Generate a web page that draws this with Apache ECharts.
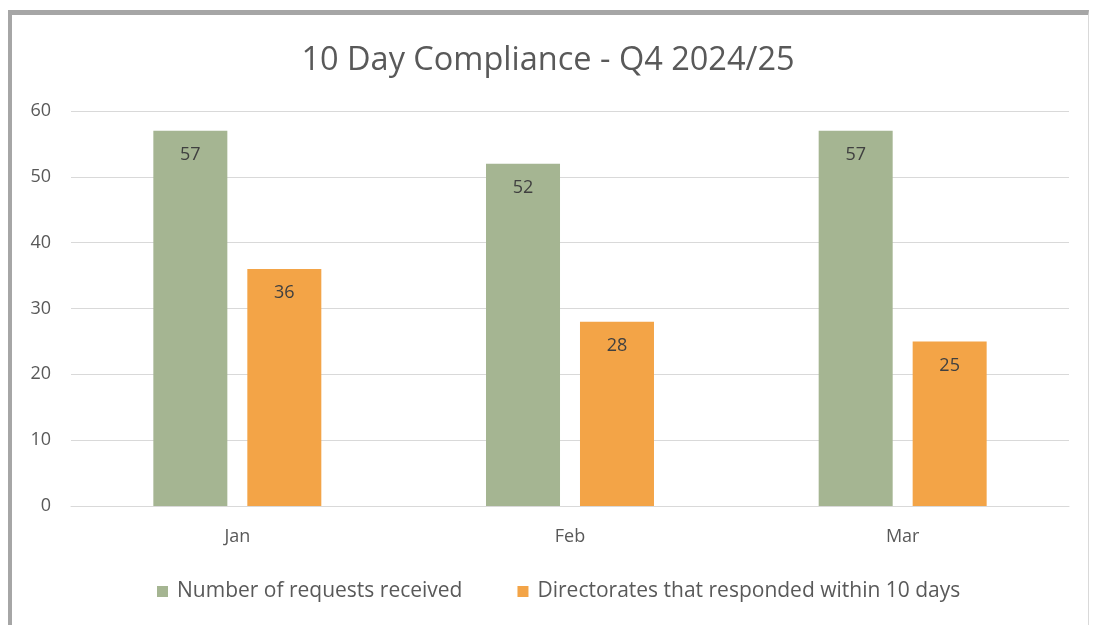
<!DOCTYPE html>
<html><head><meta charset="utf-8">
<script src="https://cdn.jsdelivr.net/npm/echarts@6/dist/echarts.min.js"></script>
<style>
html,body{margin:0;padding:0;background:#fff;}
#c{width:1096px;height:625px;}
#frame{position:absolute;left:8px;top:10px;width:1076px;height:640px;border-top:5px solid #a6a6a6;border-left:4px solid #a6a6a6;border-right:1px solid #d9d9d9;pointer-events:none;}
</style></head>
<body>
<div id="c"></div>
<div id="frame"></div>
<script>
const categories = ['Jan', 'Feb', 'Mar'];
const requestsReceived = [57, 52, 57];
const respondedWithin10 = [36, 28, 25];
const seriesNames = ['Number of requests received', 'Directorates that responded within 10 days'];

const font = 'Open Sans';
const chart = echarts.init(document.getElementById('c'));
const labelStyle = {show: true, position: 'insideTop', distance: 15, color: '#404040', fontSize: 18, fontFamily: font};
chart.setOption({
  animation: false,
  title: {text: '10 Day Compliance - Q4 2024/25', left: 'center', top: 39,
    textStyle: {fontFamily: font, fontSize: 32.5, fontWeight: 'normal', color: '#595959'}},
  legend: {bottom: 18, left: 152, itemWidth: 11, itemHeight: 11, itemGap: 55, icon: 'rect',
    textStyle: {fontFamily: font, fontSize: 21, color: '#595959', padding: [0, 0, 0, 4]}},
  grid: {left: 71, right: 27, top: 111, bottom: 119},
  xAxis: {type: 'category', data: categories,
    axisLine: {lineStyle: {color: '#d9d9d9', width: 1}}, axisTick: {show: false},
    axisLabel: {margin: 22, fontFamily: font, fontSize: 18, color: '#595959'}},
  yAxis: {type: 'value', min: 0, max: 60, interval: 10,
    axisLabel: {margin: 20, fontFamily: font, fontSize: 18, color: '#595959'},
    splitLine: {lineStyle: {color: '#d9d9d9', width: 1}}},
  series: [
    {name: seriesNames[0], type: 'bar', data: requestsReceived, barWidth: 74, barGap: '27%',
      itemStyle: {color: '#a5b592'}, label: labelStyle},
    {name: seriesNames[1], type: 'bar', data: respondedWithin10, barWidth: 74,
      itemStyle: {color: '#f3a447'}, label: labelStyle}
  ]
});
</script>
</body></html>
